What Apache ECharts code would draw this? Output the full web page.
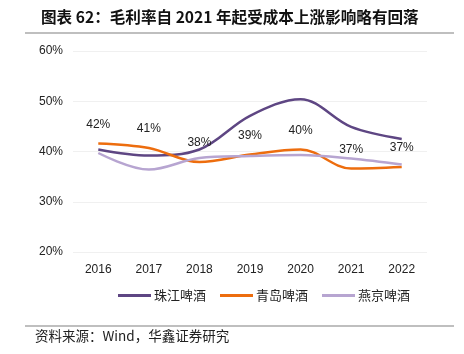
<!DOCTYPE html>
<html>
<head>
<meta charset="utf-8">
<script src="https://cdn.jsdelivr.net/npm/echarts@6/dist/echarts.min.js"></script>
<style>
  html, body { margin: 0; padding: 0; background: #fff; }
  #chart { width: 464px; height: 354px; }
</style>
</head>
<body>
<div id="chart"></div>
<script>
var years = ["2016", "2017", "2018", "2019", "2020", "2021", "2022"];
var zhujiang = [40.4, 39.2, 40.4, 47.1, 50.4, 44.9, 42.5];
var qingdao = [41.6, 40.7, 37.9, 39.4, 40.4, 36.6, 36.9];
var yanjing = [39.7, 36.4, 38.7, 39.1, 39.3, 38.6, 37.4];
var seriesNames = ["珠江啤酒", "青岛啤酒", "燕京啤酒"];

var font = "'Noto Sans CJK SC', 'Noto Sans', sans-serif";
var numFont = "'Liberation Sans', Arial, sans-serif";
var myChart = echarts.init(document.getElementById("chart"));

var option = {
  animation: false,
  title: {
    text: "图表 62：毛利率自 2021 年起受成本上涨影响略有回落",
    left: 36,
    top: 4,
    textStyle: { fontSize: 15.6, fontWeight: "bold", color: "#111", fontFamily: font }
  },
  graphic: [
    { type: "line", shape: { x1: 25, y1: 33, x2: 454, y2: 33 }, style: { stroke: "#808080", lineWidth: 1.2 } },
    { type: "line", shape: { x1: 25, y1: 326, x2: 454, y2: 326 }, style: { stroke: "#808080", lineWidth: 1.2 } },
    {
      type: "text", left: 35, top: 329,
      style: { text: "资料来源：Wind，华鑫证券研究", fontSize: 13.5, fill: "#222", fontFamily: font }
    }
  ],
  legend: {
    bottom: 47,
    left: 113,
    itemWidth: 33,
    itemHeight: 3,
    itemGap: 14,
    icon: "rect",
    textStyle: { fontSize: 13, color: "#222", fontFamily: font, padding: [0, 0, 0, -2] },
    data: seriesNames
  },
  grid: { left: 73, right: 37, top: 51, bottom: 102 },
  xAxis: {
    type: "category",
    data: years,
    boundaryGap: true,
    axisLine: { show: false },
    axisTick: { show: false },
    axisLabel: { fontSize: 12, color: "#222", margin: 12, fontFamily: numFont }
  },
  yAxis: {
    type: "value",
    min: 20,
    max: 60,
    interval: 10,
    axisLine: { show: false },
    axisTick: { show: false },
    splitLine: { lineStyle: { color: "#f0f0f0", width: 1 } },
    axisLabel: { fontSize: 12, color: "#222", margin: 10, formatter: "{value}%", fontFamily: numFont }
  },
  series: [
    {
      name: seriesNames[0], type: "line", data: zhujiang, smooth: 0.35,
      showSymbol: false, lineStyle: { width: 2.5, color: "#5e4683" }, itemStyle: { color: "#5e4683" }
    },
    {
      name: seriesNames[1], type: "line", data: qingdao, smooth: 0.35,
      showSymbol: true, symbol: "circle", symbolSize: 0,
      lineStyle: { width: 2.5, color: "#ed6d0e" }, itemStyle: { color: "#ed6d0e" },
      label: {
        show: true, position: "top", distance: 13, fontSize: 12, color: "#222", fontFamily: numFont,
        formatter: function (p) { return Math.round(p.value) + "%"; }
      }
    },
    {
      name: seriesNames[2], type: "line", data: yanjing, smooth: 0.35,
      showSymbol: false, lineStyle: { width: 2.5, color: "#b7a5d1" }, itemStyle: { color: "#b7a5d1" }
    }
  ]
};

option && myChart.setOption(option);
</script>
</body>
</html>
